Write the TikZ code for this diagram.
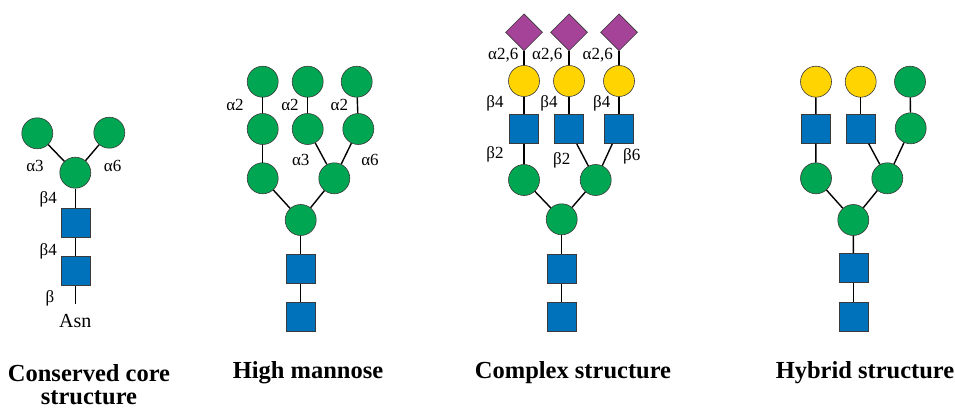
\documentclass[tikz,border=0pt]{standalone}
\usepackage{fontspec}
\setmainfont{Liberation Serif}
\usetikzlibrary{shapes.geometric}
\definecolor{glcgreen}{HTML}{00A651}
\definecolor{glcblue}{HTML}{0072BC}
\definecolor{glcyellow}{HTML}{FFD400}
\definecolor{glcpurple}{HTML}{A54399}
\definecolor{glcedge}{HTML}{3A3A3A}
\tikzset{
  man/.style={circle, draw=glcedge, line width=0.6pt, fill=glcgreen, minimum size=31pt, inner sep=0pt},
  gal/.style={circle, draw=glcedge, line width=0.6pt, fill=glcyellow, minimum size=31pt, inner sep=0pt},
  glcnac/.style={rectangle, draw=glcedge, line width=0.6pt, fill=glcblue, minimum size=29pt, inner sep=0pt},
  sia/.style={diamond, draw=glcedge, line width=0.6pt, fill=glcpurple, minimum size=37pt, inner sep=0pt},
  bond/.style={line width=1.4pt, black},
  lbl/.style={font=\fontsize{17}{19}\selectfont, inner sep=0pt},
  ttl/.style={font=\fontsize{24.5}{27}\selectfont\bfseries, inner sep=0pt, align=center}
}
\begin{document}
\begin{tikzpicture}[x=1pt,y=-1pt]
\useasboundingbox (0,0) rectangle (955,409);
% ---------- Panel 1: conserved core
\node[man] (p1a) at (37.3,133.3) {};
\node[man] (p1b) at (109.3,132.7) {};
\node[man] (p1m) at (75.3,172.7) {};
\node[glcnac] (p1s1) at (75.3,222.8) {};
\node[glcnac] (p1s2) at (75.3,271) {};
\coordinate (p1end) at (75.3,303.5);
\draw[bond] (p1a) -- (p1m);
\draw[bond] (p1b) -- (p1m);
\draw[bond] (p1m) -- (p1s1);
\draw[bond] (p1s1) -- (p1s2);
\draw[bond] (p1s2) -- (p1end);
\node[font=\fontsize{20}{22}\selectfont, inner sep=0pt] (asn) at (75.3,320.7) {Asn};
\node[lbl] (l1a) at (35,166) {α3};
\node[lbl] (l1b) at (112.7,166) {α6};
\node[lbl] (l1c) at (48.3,199) {β4};
\node[lbl] (l1d) at (48.3,251.7) {β4};
\node[lbl] (l1e) at (50,298.3) {β};
% ---------- Panel 2: high mannose
\node[man] (p2t1) at (262.7,81.7) {};
\node[man] (p2t2) at (307.7,81.7) {};
\node[man] (p2t3) at (356.7,81.7) {};
\node[man] (p2m1) at (262.7,129) {};
\node[man] (p2m2) at (307.7,129) {};
\node[man] (p2m3) at (358.3,129) {};
\node[man] (p2r1) at (262.7,178.3) {};
\node[man] (p2r2) at (334.3,178.3) {};
\node[man] (p2c) at (300.7,220) {};
\node[glcnac] (p2s1) at (300.7,268.8) {};
\node[glcnac] (p2s2) at (300.7,316.7) {};
\draw[bond] (p2t1) -- (p2m1);
\draw[bond] (p2m1) -- (p2r1);
\draw[bond] (p2t2) -- (p2m2);
\draw[bond] (p2t3) -- (p2m3);
\draw[bond] (p2m2) -- (p2r2);
\draw[bond] (p2m3) -- (p2r2);
\draw[bond] (p2r1) -- (p2c);
\draw[bond] (p2r2) -- (p2c);
\draw[bond] (p2c) -- (p2s1);
\draw[bond] (p2s1) -- (p2s2);
\node[lbl] (l2a) at (235,105) {α2};
\node[lbl] (l2b) at (290,105) {α2};
\node[lbl] (l2c) at (339.3,105) {α2};
\node[lbl] (l2d) at (300.7,160) {α3};
\node[lbl] (l2e) at (370,160) {α6};
% ---------- Panel 3: complex
\node[sia] (p3d1) at (524,32.3) {};
\node[sia] (p3d2) at (569,32.3) {};
\node[sia] (p3d3) at (619,32.3) {};
\node[gal] (p3y1) at (524,81) {};
\node[gal] (p3y2) at (569,81) {};
\node[gal] (p3y3) at (619,81) {};
\node[glcnac] (p3q1) at (524,129.2) {};
\node[glcnac] (p3q2) at (569,129.2) {};
\node[glcnac] (p3q3) at (619,129.2) {};
\node[man] (p3g1) at (524,180) {};
\node[man] (p3g2) at (595.7,180) {};
\node[man] (p3c) at (561.7,219.3) {};
\node[glcnac] (p3s1) at (561.7,268.7) {};
\node[glcnac] (p3s2) at (561.7,317) {};
\foreach \i in {1,2,3}{
  \draw[bond] (p3d\i) -- (p3y\i);
  \draw[bond] (p3y\i) -- (p3q\i);
}
\draw[bond] (p3q1) -- (p3g1);
\draw[bond] (p3q2) -- (p3g2);
\draw[bond] (p3q3) -- (p3g2);
\draw[bond] (p3g1) -- (p3c);
\draw[bond] (p3g2) -- (p3c);
\draw[bond] (p3c) -- (p3s1);
\draw[bond] (p3s1) -- (p3s2);
\node[lbl] (l3a) at (503.3,55) {α2,6};
\node[lbl] (l3b) at (547.3,55) {α2,6};
\node[lbl] (l3c) at (597.7,55) {α2,6};
\node[lbl] (l3d) at (495,103.3) {β4};
\node[lbl] (l3e) at (549,103.3) {β4};
\node[lbl] (l3f) at (601.7,103.3) {β4};
\node[lbl] (l3g) at (495,154) {β2};
\node[lbl] (l3h) at (561.7,160) {β2};
\node[lbl] (l3i) at (631.7,156.7) {β6};
% ---------- Panel 4: hybrid
\node[gal] (p4y1) at (816,81.7) {};
\node[gal] (p4y2) at (860.7,81.7) {};
\node[man] (p4t3) at (910,81.7) {};
\node[glcnac] (p4q1) at (815.8,128.8) {};
\node[glcnac] (p4q2) at (860.7,128.8) {};
\node[man] (p4m3) at (910.7,128.3) {};
\node[man] (p4r1) at (816,178.3) {};
\node[man] (p4r2) at (887.3,178.3) {};
\node[man] (p4c) at (853.3,220) {};
\node[glcnac] (p4s1) at (853.5,267.8) {};
\node[glcnac] (p4s2) at (853.5,316.7) {};
\draw[bond] (p4y1) -- (p4q1);
\draw[bond] (p4y2) -- (p4q2);
\draw[bond] (p4t3) -- (p4m3);
\draw[bond] (p4q1) -- (p4r1);
\draw[bond] (p4q2) -- (p4r2);
\draw[bond] (p4m3) -- (p4r2);
\draw[bond] (p4r1) -- (p4c);
\draw[bond] (p4r2) -- (p4c);
\draw[bond] (p4c) -- (p4s1);
\draw[bond] (p4s1) -- (p4s2);
% ---------- titles
\node[ttl] (t1) at (89,384.5) {Conserved core\\[-4pt]structure};
\node[ttl] (t2) at (308,373) {High mannose};
\node[ttl] (t3) at (573,373) {Complex structure};
\node[ttl] (t4) at (865,373) {Hybrid structure};
\end{tikzpicture}
\end{document}
